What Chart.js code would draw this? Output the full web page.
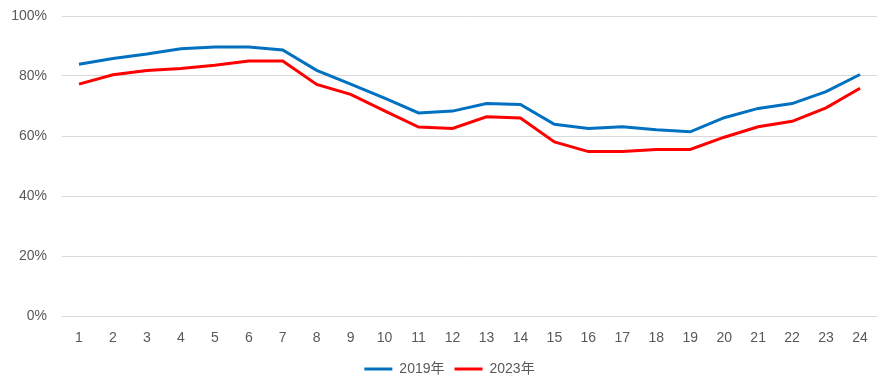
<!DOCTYPE html>
<html>
<head>
<meta charset="utf-8">
<script src="https://cdn.jsdelivr.net/npm/chart.js@4.4.1/dist/chart.umd.min.js"></script>
<style>
  html, body { margin: 0; padding: 0; background: #fff; }
  #wrap { width: 892px; height: 390px; }
</style>
</head>
<body>
<div id="wrap"><canvas id="lineChart" width="892" height="390"></canvas></div>
<script>
// Datos
const hours = ['1','2','3','4','5','6','7','8','9','10','11','12','13','14','15','16','17','18','19','20','21','22','23','24'];
const values2019 = [83.9, 85.8, 87.3, 89.1, 89.7, 89.7, 88.7, 81.9, 77.3, 72.6, 67.7, 68.3, 70.8, 70.5, 63.9, 62.5, 63.1, 62.1, 61.4, 66.1, 69.2, 70.8, 74.8, 80.5];
const values2023 = [77.3, 80.4, 81.8, 82.5, 83.6, 85.0, 85.0, 77.2, 73.9, 68.4, 63.0, 62.5, 66.4, 66.0, 58.0, 54.8, 54.8, 55.5, 55.5, 59.6, 63.1, 64.9, 69.4, 75.9];
const yTicks = [0, 20, 40, 60, 80, 100];

const textColor = '#595959';
const gridColor = '#d9d9d9';
const fontFamily = '"Liberation Sans", "Noto Sans CJK JP", sans-serif';

// Mover la leyenda un poco a la derecha (centrada sobre el área del gráfico)
const shiftLegend = {
    id: 'shiftLegend',
    afterLayout(chart) {
        if (chart.legend) {
            chart.legend.left += 11;
            chart.legend.right += 11;
        }
    }
};

const ctx = document.getElementById('lineChart').getContext('2d');
const lineChart = new Chart(ctx, {
    type: 'line',
    data: {
        labels: hours,
        datasets: [
            {
                label: '2019年',
                data: values2019,
                borderColor: '#0070c0',
                backgroundColor: '#0070c0',
                borderWidth: 3,
                pointRadius: 0,
                pointHoverRadius: 0,
                tension: 0
            },
            {
                label: '2023年',
                data: values2023,
                borderColor: '#ff0000',
                backgroundColor: '#ff0000',
                borderWidth: 3,
                pointRadius: 0,
                pointHoverRadius: 0,
                tension: 0
            }
        ]
    },
    plugins: [shiftLegend],
    options: {
        responsive: false,
        animation: false,
        layout: { autoPadding: false, padding: { left: 0, right: 15, top: 16, bottom: 4 } },
        plugins: {
            tooltip: { enabled: false },
            legend: {
                position: 'bottom',
                labels: {
                    color: textColor,
                    font: { family: fontFamily, size: 14 },
                    usePointStyle: true,
                    pointStyle: 'line',
                    pointStyleWidth: 28,
                    boxHeight: 4,
                    padding: 10
                }
            }
        },
        scales: {
            x: {
                offset: true,
                grid: { display: false, drawTicks: false },
                border: { display: false },
                ticks: {
                    color: textColor,
                    font: { family: fontFamily, size: 14 },
                    maxRotation: 0,
                    padding: 14
                },
                afterFit: function(scale) { scale.height = 36; }
            },
            y: {
                min: 0,
                max: 100,
                afterBuildTicks: function(scale) {
                    scale.ticks = yTicks.map(v => ({ value: v }));
                },
                grid: { color: gridColor, lineWidth: 1, drawTicks: false },
                border: { display: false },
                ticks: {
                    color: textColor,
                    font: { family: fontFamily, size: 14 },
                    padding: 15,
                    callback: function(value) { return value + '%'; }
                },
                afterFit: function(scale) {
                    scale.width = 62;
                    scale.paddingTop = 0;
                    scale.paddingBottom = 0;
                }
            }
        }
    }
});
</script>
</body>
</html>
